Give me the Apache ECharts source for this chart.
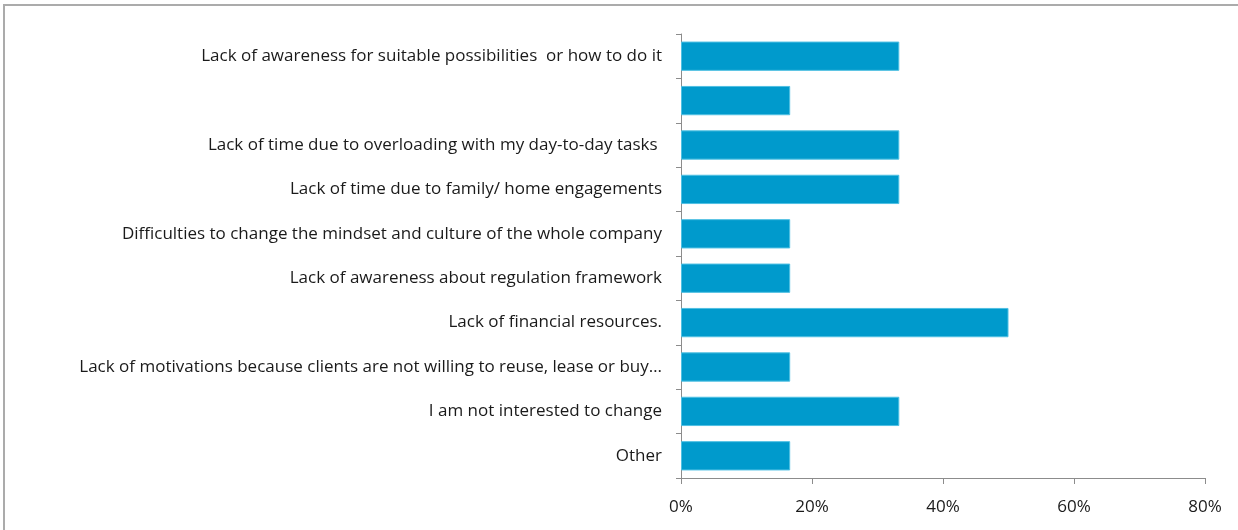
<!DOCTYPE html>
<html>
<head>
<meta charset="utf-8">
<script src="https://cdn.jsdelivr.net/npm/echarts@6/dist/echarts.min.js"></script>
<style>
  html, body { margin: 0; padding: 0; background: #fff; }
  #frame { position: absolute; left: 3px; top: 4px; width: 1300px; height: 600px;
           border-top: 2px solid #ababab; border-left: 2px solid #ababab; box-sizing: border-box; }
  #chart { position: absolute; left: 0; top: 0; width: 1238px; height: 530px; }
</style>
</head>
<body>
<div id="frame"></div>
<div id="chart"></div>
<script>
// Reasons for not changing, share of respondents (%)
const categories = [
  'Lack of awareness for suitable possibilities  or how to do it',
  '',
  'Lack of time due to overloading with my day-to-day tasks ',
  'Lack of time due to family/ home engagements',
  'Difficulties to change the mindset and culture of the whole company',
  'Lack of awareness about regulation framework',
  'Lack of financial resources.',
  'Lack of motivations because clients are not willing to reuse, lease or buy…',
  'I am not interested to change',
  'Other'
];
const shares = [33.33, 16.67, 33.33, 33.33, 16.67, 16.67, 50, 16.67, 33.33, 16.67];
const xTicks = [0, 20, 40, 60, 80];

const axisGrey = '#8c8c8c';
const font = '"Open Sans", "Noto Sans", sans-serif';

const chart = echarts.init(document.getElementById('chart'), null, { renderer: 'canvas' });
chart.setOption({
  animation: false,
  grid: { left: 681, right: 33, top: 34, bottom: 52, containLabel: false },
  xAxis: {
    type: 'value',
    min: xTicks[0],
    max: xTicks[xTicks.length - 1],
    interval: xTicks[1] - xTicks[0],
    axisLine: { show: true, lineStyle: { color: axisGrey, width: 1 } },
    axisTick: { show: true, length: 6, lineStyle: { color: axisGrey } },
    splitLine: { show: false },
    axisLabel: { formatter: v => v + '%', color: '#1a1a1a', fontSize: 17, fontFamily: font, margin: 21 }
  },
  yAxis: {
    type: 'category',
    inverse: true,
    data: categories,
    axisLine: { show: true, lineStyle: { color: axisGrey, width: 1 } },
    axisTick: { show: true, length: 5, lineStyle: { color: axisGrey } },
    axisLabel: { color: '#1a1a1a', fontSize: 17, fontFamily: font, margin: 19 }
  },
  series: [{
    type: 'bar',
    data: shares,
    barWidth: '66%',
    itemStyle: { color: '#009acc', borderColor: '#4fc0e3', borderWidth: 1 }
  }]
});
</script>
</body>
</html>
